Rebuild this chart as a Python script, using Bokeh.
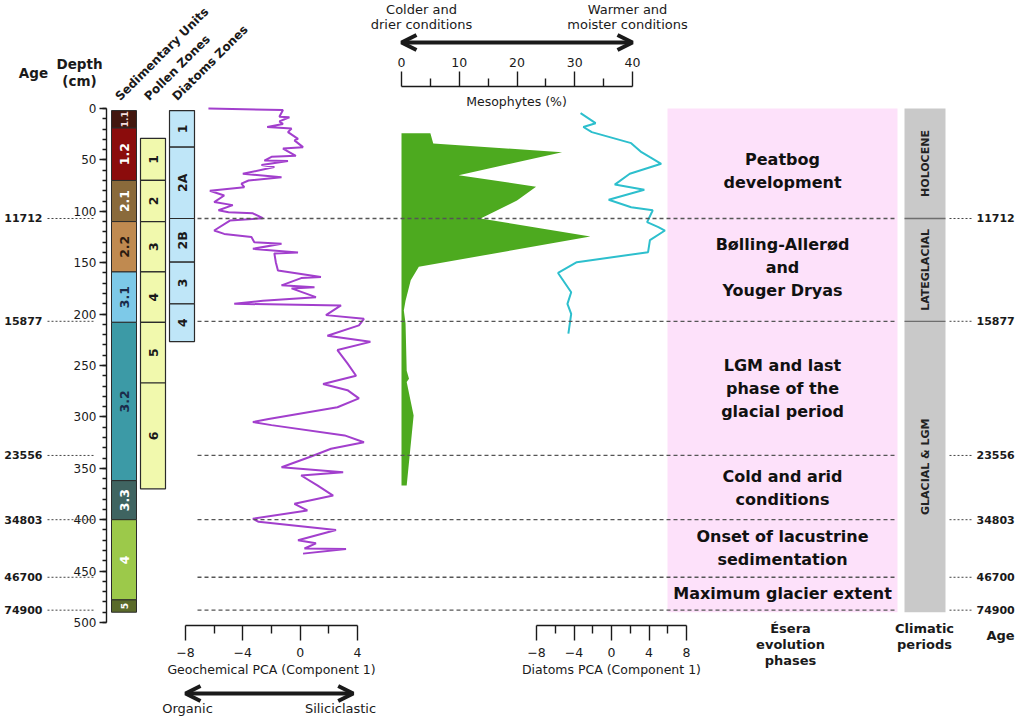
import math
from bokeh.plotting import figure
from bokeh.models import Range1d, LinearAxis, FixedTicker, SingleIntervalTicker, Arrow, OpenHead
from bokeh.core.properties import value
from bokeh.embed import file_html
from bokeh.resources import INLINE

# ---------------- data ----------------
geo_depth = [0, 1.5, 8, 8.5, 12.6, 15, 18, 19.5, 23, 29.5, 31, 37.6, 39, 46, 47, 50.6, 51, 55, 57, 63.5,
             66.8, 70, 73, 76.5, 80, 84.6, 91, 94, 99, 101, 102, 106.7, 109, 118.7, 122, 125, 130, 131.6, 136.5, 140,
             141, 149.5, 157.6, 164, 165, 172, 174, 175, 183.5, 187, 190, 191.6, 201, 204.6, 211, 221, 227, 235, 248, 260,
             268, 274, 282, 290.6, 302, 305, 308, 318, 324.6, 331, 338.5, 349, 353.8, 357, 366.7, 376.5, 384.5, 391, 399, 402,
             410, 420, 423, 428, 428.5, 433]
geo_value = [-6.4, -1.2, -1.45, -0.75, -1.45, -1.2, -2.3, -0.6, -0.85, -0.15, -0.4, 0.2, -1.2, -0.3, -2.0, -2.5, -0.85, -2.7, -1.8, -4.0,
             -1.3, -3.6, -4.1, -3.9, -6.3, -5.3, -6.0, -4.7, -5.7, -5.0, -3.3, -2.6, -4.9, -6.0, -5.3, -3.4, -3.2, -1.3, -3.3, -0.15,
             -1.8, -1.7, -1.55, 1.45, 0.07, -1.3, 1.0, -0.6, 1.1, -2.6, -4.6, 2.85, 1.8, 4.45, 4.1, 1.9, 4.9, 2.6, 3.3, 3.9,
             1.6, 3.3, 4.1, 2.6, -2.2, -3.3, -2.0, 3.1, 4.45, 2.15, 0.76, -1.3, 3.0, 0.07, 1.2, 2.3, -0.4, 0.5, -3.3, -2.9,
             2.5, -0.15, 1.1, 0.3, 3.2, 0.2]

meso_depth = [24, 34, 42.5, 65, 76, 89.5, 107, 124.5, 154, 167, 187, 196.5, 209, 255, 263, 266, 298.6, 366.7]
meso_value = [5.0, 5.5, 27.8, 9.9, 23.3, 20.0, 13.7, 32.7, 3.0, 1.6, 0.7, 0.4, 0.7, 0.9, 1.3, 0.9, 2.1, 0.9]

dia_depth = [4.5, 14.3, 18, 23, 33.7, 42.5, 47.4, 53.8, 63.5, 74, 79, 88.8, 96, 99, 110.6, 115.4, 118.7, 128,
             139.8, 149.5, 160, 178.7, 190, 199.7, 219]
dia_value = [-3.3, -1.7, -3.0, -2.1, 2.1, 3.2, 4.1, 5.3, 1.95, 0.35, 3.5, -0.3, 2.1, 4.4, 3.8, 5.0, 5.7, 4.1,
             3.9, -3.7, -5.7, -4.3, -4.7, -4.3, -4.6]

sed_units = ["1.1", "1.2", "2.1", "2.2", "3.1", "3.2", "3.3", "4", "5"]
sed_top = [2, 19, 70, 110, 159, 208, 362, 400, 478]
sed_bottom = [19, 70, 110, 159, 208, 362, 400, 478, 490]

pollen_zones = ["1", "2", "3", "4", "5", "6"]
pollen_top = [29, 70, 110, 159, 208, 267]
pollen_bottom = [70, 110, 159, 208, 267, 370]

diatom_zones = ["1", "2A", "2B", "3", "4"]
diatom_top = [2, 37.6, 107, 149.5, 190]
diatom_bottom = [37.6, 107, 149.5, 190, 226.7]

ages = ["11712", "15877", "23556", "34803", "46700", "74900"]
age_depth = [107, 207, 337.5, 400, 456, 488]

phases = [["Peatbog", "development"],
          ["Bølling-Allerød", "and", "Youger Dryas"],
          ["LGM and last", "phase of the", "glacial period"],
          ["Cold and arid", "conditions"],
          ["Onset of lacustrine", "sedimentation"],
          ["Maximum glacier extent"]]

periods = ["HOLOCENE", "LATEGLACIAL", "GLACIAL & LGM"]
period_bounds = [0, 107, 207, 490]

depth_ticks_interval = 50
meso_ticks = [0, 10, 20, 30, 40]
meso_minor = [5, 15, 25, 35]
geo_ticks = [-8, -4, 0, 4]
geo_minor = [-6, -2, 2]
dia_ticks = [-8, -4, 0, 4, 8]
dia_minor = [-6, -2, 2, 6]

# ---------------- styles ----------------
FONT = "DejaVu Sans"
W, H = 1020, 718
sed_colors = ["#43170f", "#8b0c0c", "#8a6a3b", "#c08a50", "#7dc9e8", "#3c9aa6", "#3f6461", "#9cc94a", "#5a6a2a"]
sed_label_colors = ["#f3dede", "#ffffff", "#ffffff", "#2a1a10", "#1b2b4a", "#1b2b4a", "#ffffff", "#ffffff", "#ffffff"]
POLLEN_FILL = "#f1f9ad"
DIATOM_FILL = "#bfe6f8"
PINK = "#fde1fa"
GREY = "#c9c9c9"
PURPLE = "#a23fcd"
CYAN = "#2dbfcd"
GREEN = "#4daa1f"
INK = "#1a1a1a"
PHASE_NUDGE = [7, -2, 0, 0, 0, 0]   # small vertical text nudges (depth units)


def X(rx):
    return rx


def D(ry):
    return (ry - 108) / 1.028


p = figure(width=W, height=H, x_range=Range1d(0, W), y_range=Range1d(D(H), D(0)),
           output_backend="svg", toolbar_location=None, x_axis_location=None, y_axis_location=None,
           min_border=0, outline_line_color=None, background_fill_color="white", border_fill_color="white")
for g in p.grid:
    g.visible = False


def track_range(v0, r0, v1, r1):
    k = (v1 - v0) / (X(r1) - X(r0))
    start = v0 - X(r0) * k
    return Range1d(start, start + W * k)


p.extra_x_ranges = {"geo": track_range(-8, 185, 4, 357),
                    "meso": track_range(0, 401, 40, 632),
                    "dia": track_range(-8, 536, 8, 686)}


def T(xs, ys, texts, size=12, bold=False, color=INK, align="center", baseline="middle", angle=0.0, rn="default"):
    p.text(x=xs, y=ys, text=texts, text_font=value(FONT), text_font_size=value(f"{size}px"),
           text_font_style="bold" if bold else "normal", text_color=color, text_align=align,
           text_baseline=baseline, angle=angle, x_range_name=rn)


def style_axis(ax, major_out, minor_out, size="12.5px"):
    ax.axis_line_color = INK
    ax.axis_line_width = 1.4
    ax.major_tick_line_color = INK
    ax.major_tick_line_width = 1.4
    ax.minor_tick_line_color = INK
    ax.minor_tick_line_width = 1.4
    ax.major_tick_in = 0
    ax.minor_tick_in = 0
    ax.major_tick_out = major_out
    ax.minor_tick_out = minor_out
    ax.major_label_text_font = FONT
    ax.major_label_text_font_size = size
    ax.major_label_text_color = INK
    ax.axis_label_text_font = FONT
    ax.axis_label_text_font_size = size
    ax.axis_label_text_font_style = "normal"
    ax.axis_label_text_color = INK


# ---------------- background boxes ----------------
p.quad(left=X(667), right=X(897), top=period_bounds[0], bottom=period_bounds[-1], fill_color=PINK, line_color=None)
p.quad(left=X(904), right=X(945), top=period_bounds[0], bottom=period_bounds[-1], fill_color=GREY, line_color=None)
p.segment(x0=X(904), x1=X(945), y0=period_bounds[1:3], y1=period_bounds[1:3], line_color="#6e6e6e", line_width=1.3)

# ---------------- columns ----------------
p.quad(left=X(111), right=X(136), top=sed_top, bottom=sed_bottom, fill_color=sed_colors,
       line_color="#2b2b2b", line_width=1)
sed_mid = [(a + b) / 2 for a, b in zip(sed_top, sed_bottom)]
sed_sizes = ["9px" if (b - a) < 25 else "12.5px" for a, b in zip(sed_top, sed_bottom)]
p.text(x=X(123.5), y=sed_mid, text=sed_units, text_font=value(FONT), text_font_size=sed_sizes,
       text_font_style="bold", text_color=sed_label_colors, text_align="center", text_baseline="middle",
       angle=math.pi / 2)

p.quad(left=X(140), right=X(165), top=pollen_top, bottom=pollen_bottom, fill_color=POLLEN_FILL,
       line_color="#2b2b2b", line_width=1.2)
T(X(152.5), [(a + b) / 2 for a, b in zip(pollen_top, pollen_bottom)], pollen_zones, size=12.5, bold=True,
  angle=math.pi / 2)

p.quad(left=X(169), right=X(194), top=diatom_top, bottom=diatom_bottom, fill_color=DIATOM_FILL,
       line_color="#2b2b2b", line_width=1.2)
T(X(181.5), [(a + b) / 2 for a, b in zip(diatom_top, diatom_bottom)], diatom_zones, size=12.5, bold=True,
  angle=math.pi / 2)

# ---------------- curves ----------------
p.harea(y=meso_depth, x1=0, x2=meso_value, x_range_name="meso", fill_color=GREEN)
p.line(x=geo_value, y=geo_depth, x_range_name="geo", line_color=PURPLE, line_width=2)
p.line(x=dia_value, y=dia_depth, x_range_name="dia", line_color=CYAN, line_width=2)

# ---------------- age lines ----------------
p.segment(x0=X(197), x1=X(897), y0=age_depth, y1=age_depth, line_color="#555555", line_width=1.3,
          line_dash="4 3")
p.segment(x0=X(47), x1=X(95), y0=age_depth, y1=age_depth, line_color="#444444", line_width=1, line_dash="2 2")
p.segment(x0=X(949), x1=X(973), y0=age_depth, y1=age_depth, line_color="#444444", line_width=1, line_dash="2 2")
T(X(42), age_depth, ages, size=11, bold=True, align="right")
T(X(976), age_depth, ages, size=11, bold=True, align="left")

# ---------------- phase and period texts ----------------
bounds = [0] + age_depth
LINE = 22.4
px, py, pt = [], [], []
for i, lines in enumerate(phases):
    mid = (bounds[i] + bounds[i + 1]) / 2 + PHASE_NUDGE[i]
    n = len(lines)
    for j, s in enumerate(lines):
        px.append(X(782))
        py.append(mid + (j - (n - 1) / 2) * LINE)
        pt.append(s)
T(px, py, pt, size=16, bold=True, color="#111111")

T(X(924.5), [(period_bounds[i] + period_bounds[i + 1]) / 2 for i in range(3)], periods, size=11, bold=True,
  color="#222222", angle=math.pi / 2)

# ---------------- axes ----------------
depth_axis = LinearAxis(fixed_location=X(106), bounds=(0, 500),
                        ticker=SingleIntervalTicker(interval=depth_ticks_interval, num_minor_ticks=5))
style_axis(depth_axis, 7, 4, "12px")
depth_axis.major_label_standoff = 3
p.add_layout(depth_axis, "left")

meso_axis = LinearAxis(x_range_name="meso", fixed_location=D(86), bounds=(0, 40),
                       ticker=FixedTicker(ticks=meso_ticks, minor_ticks=meso_minor))
style_axis(meso_axis, 15, 8)
meso_axis.major_label_standoff = 5
p.add_layout(meso_axis, "above")

geo_axis = LinearAxis(x_range_name="geo", fixed_location=D(625), bounds=(-8, 4),
                      ticker=FixedTicker(ticks=geo_ticks, minor_ticks=geo_minor),
                      axis_label="Geochemical PCA (Component 1)")
style_axis(geo_axis, 15, 8)
geo_axis.major_label_standoff = 7
geo_axis.axis_label_standoff = 2
p.add_layout(geo_axis, "below")

dia_axis = LinearAxis(x_range_name="dia", fixed_location=D(625), bounds=(-8, 8),
                      ticker=FixedTicker(ticks=dia_ticks, minor_ticks=dia_minor),
                      axis_label="Diatoms PCA (Component 1)")
style_axis(dia_axis, 15, 8)
dia_axis.major_label_standoff = 7
dia_axis.axis_label_standoff = 2
p.add_layout(dia_axis, "below")

# ---------------- arrows ----------------
p.add_layout(Arrow(x_range_name="meso", x_start=0, x_end=40, y_start=D(42), y_end=D(42), line_width=4,
                   line_color=INK,
                   start=OpenHead(size=15, line_width=4, line_color=INK),
                   end=OpenHead(size=15, line_width=4, line_color=INK)))
p.add_layout(Arrow(x_range_name="geo", x_start=-8, x_end=3.7, y_start=D(693), y_end=D(693), line_width=4,
                   line_color=INK,
                   start=OpenHead(size=15, line_width=4, line_color=INK),
                   end=OpenHead(size=15, line_width=4, line_color=INK)))

# ---------------- header / footer texts ----------------
T(X(33), D(72), ["Age"], size=13.5, bold=True)
T(X(79), D(63), ["Depth"], size=13.5, bold=True)
T(X(79), D(80), ["(cm)"], size=13.5, bold=True)
T([X(117), X(146), X(174)], D(98), ["Sedimentary Units", "Pollen Zones", "Diatoms Zones"], size=12, bold=True,
  align="left", baseline="alphabetic", angle=math.pi / 4)

T(X(421), [D(9), D(24)], ["Colder and", "drier conditions"], size=13)
T(X(627), [D(9), D(24)], ["Warmer and", "moister conditions"], size=13)
T(X(516), D(101), ["Mesophytes (%)"], size=12.5)

T(X(187), D(708), ["Organic"], size=13)
T(X(340), D(708), ["Siliciclastic"], size=13)

T(X(790), [D(628), D(644), D(660)], ["Ésera", "evolution", "phases"], size=13, bold=True)
T(X(924), [D(628), D(644)], ["Climatic", "periods"], size=13, bold=True)
T(X(1000), D(635), ["Age"], size=13, bold=True)

open("out.html", "w").write(file_html(p, INLINE))
